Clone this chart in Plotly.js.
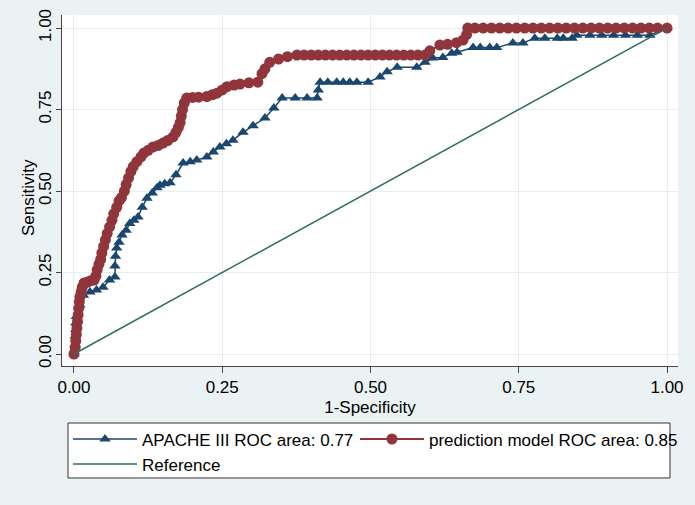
<!DOCTYPE html>
<html>
<head>
<meta charset="utf-8">
<script src="https://cdn.plot.ly/plotly-3.0.1.min.js"></script>
<style>
html,body{margin:0;padding:0;background:#eaf2f3;}
#chart{width:695px;height:505px;}
</style>
</head>
<body>
<div id="chart"></div>
<script>
// APACHE III ROC curve (1-Specificity, Sensitivity)
var apacheFPR = [0, 0.002, 0.002, 0.003, 0.003, 0.004, 0.010, 0.016, 0.027, 0.038,
  0.049, 0.060, 0.069, 0.069, 0.070, 0.072, 0.076, 0.081, 0.088, 0.094,
  0.101, 0.108, 0.115, 0.123, 0.132, 0.140, 0.145, 0.153, 0.162, 0.172,
  0.184, 0.196, 0.207, 0.224, 0.235, 0.246, 0.257, 0.268, 0.285, 0.302,
  0.322, 0.337, 0.351, 0.373, 0.393, 0.410, 0.412, 0.415, 0.428, 0.443,
  0.454, 0.465, 0.477, 0.496, 0.516, 0.528, 0.545, 0.578, 0.592, 0.605,
  0.622, 0.637, 0.646, 0.673, 0.685, 0.701, 0.713, 0.740, 0.757, 0.777,
  0.794, 0.815, 0.825, 0.840, 0.848, 0.870, 0.890, 0.910, 0.930, 0.950,
  0.971, 1.0];
var apacheTPR = [0, 0.03, 0.055, 0.075, 0.095, 0.115, 0.15, 0.18, 0.19, 0.196,
  0.205, 0.227, 0.236, 0.27, 0.30, 0.325, 0.343, 0.365, 0.38, 0.40,
  0.41, 0.42, 0.45, 0.478, 0.494, 0.51, 0.518, 0.522, 0.525, 0.55,
  0.586, 0.59, 0.595, 0.604, 0.62, 0.635, 0.645, 0.656, 0.68, 0.70,
  0.724, 0.755, 0.785, 0.785, 0.785, 0.785, 0.81, 0.834, 0.834, 0.834,
  0.834, 0.834, 0.834, 0.834, 0.85, 0.866, 0.88, 0.88, 0.895, 0.908,
  0.91, 0.923, 0.926, 0.94, 0.94, 0.94, 0.94, 0.954, 0.954, 0.969,
  0.969, 0.969, 0.969, 0.969, 0.978, 0.978, 0.978, 0.978, 0.978, 0.978,
  0.978, 1.0];

// Prediction model ROC curve
var modelFPR = [0, 0.002, 0.003, 0.004, 0.005, 0.006, 0.007, 0.008, 0.009, 0.010,
  0.012, 0.014, 0.017, 0.022, 0.028, 0.034, 0.037, 0.039, 0.042, 0.045,
  0.047, 0.050, 0.053, 0.056, 0.060, 0.064, 0.067, 0.072, 0.076, 0.080,
  0.085, 0.088, 0.092, 0.096, 0.100, 0.106, 0.113, 0.118, 0.125, 0.133,
  0.142, 0.150, 0.158, 0.167, 0.172, 0.176, 0.179, 0.181, 0.183, 0.186,
  0.190, 0.200, 0.210, 0.224, 0.233, 0.241, 0.250, 0.258, 0.270, 0.280,
  0.295, 0.310, 0.317, 0.322, 0.330, 0.345, 0.360, 0.376, 0.388, 0.400,
  0.412, 0.424, 0.436, 0.448, 0.460, 0.472, 0.484, 0.496, 0.508, 0.520,
  0.532, 0.544, 0.556, 0.568, 0.580, 0.592, 0.600, 0.617, 0.630, 0.645,
  0.656, 0.662, 0.664, 0.676, 0.690, 0.704, 0.718, 0.732, 0.746, 0.760,
  0.774, 0.788, 0.802, 0.816, 0.830, 0.844, 0.858, 0.872, 0.886, 0.900,
  0.914, 0.928, 0.942, 0.956, 0.970, 0.984, 1.0];
var modelTPR = [0, 0.02, 0.04, 0.06, 0.08, 0.10, 0.12, 0.14, 0.16, 0.175,
  0.19, 0.205, 0.218, 0.22, 0.225, 0.227, 0.24, 0.258, 0.275, 0.29,
  0.31, 0.33, 0.35, 0.37, 0.39, 0.41, 0.43, 0.45, 0.47, 0.48,
  0.50, 0.52, 0.54, 0.56, 0.575, 0.59, 0.605, 0.617, 0.625, 0.635,
  0.64, 0.647, 0.655, 0.666, 0.68, 0.695, 0.71, 0.73, 0.75, 0.77,
  0.785, 0.787, 0.788, 0.79, 0.795, 0.80, 0.81, 0.82, 0.825, 0.828,
  0.832, 0.834, 0.86, 0.875, 0.895, 0.905, 0.912, 0.917, 0.917, 0.917,
  0.917, 0.917, 0.917, 0.917, 0.917, 0.917, 0.917, 0.917, 0.917, 0.917,
  0.917, 0.917, 0.917, 0.917, 0.917, 0.917, 0.93, 0.948, 0.95, 0.955,
  0.963, 0.98, 1.0, 1.0, 1.0, 1.0, 1.0, 1.0, 1.0, 1.0,
  1.0, 1.0, 1.0, 1.0, 1.0, 1.0, 1.0, 1.0, 1.0, 1.0,
  1.0, 1.0, 1.0, 1.0, 1.0, 1.0, 1.0];

// Reference (chance) line
var refX = [0, 1];
var refY = [0, 1];

var seriesNames = ["APACHE III ROC area: 0.77", "prediction model ROC area: 0.85", "Reference"];
var tickVals = [0, 0.25, 0.5, 0.75, 1];
var tickText = ["0.00", "0.25", "0.50", "0.75", "1.00"];
var xTitle = "1-Specificity";
var yTitle = "Sensitivity";

var FONT = "Liberation Sans, Arial, Helvetica, sans-serif";
var FS = 17;

var traces = [
  {
    x: apacheFPR, y: apacheTPR, name: seriesNames[0],
    type: "scatter", mode: "lines+markers", legend: "legend", legendgroup: "a",
    line: {color: "#1a476f", width: 1.5},
    marker: {symbol: "triangle-up", size: 10, color: "#1a476f"}
  },
  {
    x: modelFPR, y: modelTPR, name: seriesNames[1],
    type: "scatter", mode: "lines+markers", legend: "legend2", legendgroup: "b",
    line: {color: "#90353b", width: 2},
    marker: {symbol: "circle", size: 11, color: "#90353b"}
  },
  {
    x: refX, y: refY, name: seriesNames[2],
    type: "scatter", mode: "lines", legend: "legend", legendgroup: "c",
    line: {color: "#2d6d66", width: 1.5}
  }
];

var legendCommon = {
  orientation: "v",
  yanchor: "top", xanchor: "left",
  bgcolor: "rgba(0,0,0,0)",
  borderwidth: 0,
  font: {family: FONT, size: FS, color: "#000"},
  itemwidth: 64,
  tracegroupgap: 5,
  traceorder: "normal"
};

var layout = {
  width: 695, height: 505,
  paper_bgcolor: "#eaf2f3",
  plot_bgcolor: "#ffffff",
  margin: {l: 62, r: 17, t: 15, b: 139},
  font: {family: FONT, size: FS, color: "#000000"},
  showlegend: true,
  xaxis: {
    range: [-0.0202, 1.0185],
    tickvals: tickVals, ticktext: tickText,
    showgrid: true, gridcolor: "#e6eef0", gridwidth: 1,
    zeroline: false,
    showline: true, linecolor: "#444444", linewidth: 1,
    ticks: "outside", ticklen: 6, tickcolor: "#444444",
    tickfont: {family: FONT, size: FS, color: "#000"},
    title: {text: xTitle, font: {family: FONT, size: FS, color: "#000"}, standoff: 4}
  },
  yaxis: {
    range: [-0.0368, 1.04],
    tickvals: tickVals, ticktext: tickText,
    tickangle: -90,
    showgrid: true, gridcolor: "#e6eef0", gridwidth: 1,
    zeroline: false,
    showline: true, linecolor: "#444444", linewidth: 1,
    ticks: "outside", ticklen: 5, tickcolor: "#444444",
    ticklabelstandoff: -2,
    tickfont: {family: FONT, size: FS, color: "#000"}
  },
  annotations: [{
    text: yTitle, textangle: -90,
    xref: "paper", yref: "paper",
    x: -0.0536, y: 0.4815, xanchor: "center", yanchor: "middle",
    showarrow: false,
    font: {family: FONT, size: FS, color: "#000"}
  }],
  shapes: [{
    type: "rect", xref: "paper", yref: "paper",
    x0: 0.00974, x1: 0.987, y0: -0.1624, y1: -0.319,
    fillcolor: "#ffffff", line: {color: "#333333", width: 1},
    layer: "below"
  }],
  legend: Object.assign({}, legendCommon, {x: 0.0097, y: -0.158}),
  legend2: Object.assign({}, legendCommon, {x: 0.4756, y: -0.158})
};

Plotly.newPlot("chart", traces, layout, {displayModeBar: false, staticPlot: true});
</script>
</body>
</html>
